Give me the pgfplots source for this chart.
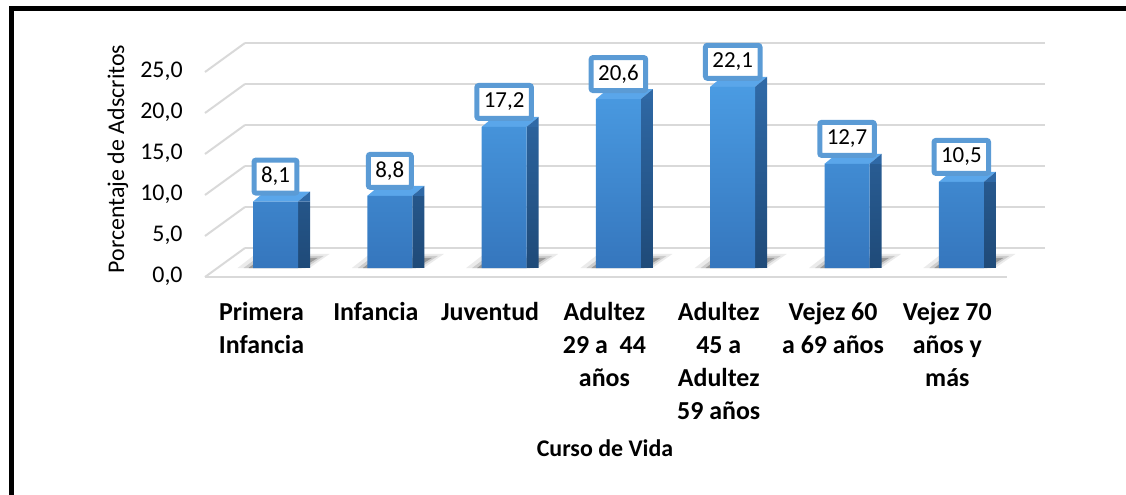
\documentclass[border=0pt]{standalone}
\usepackage{pgfplots}
\pgfplotsset{compat=1.18}
\usepackage{pgfplotstable}
\usepackage{fontspec}
\setmainfont{Carlito}
\definecolor{frontTop}{HTML}{4A9BE2}
\definecolor{frontBot}{HTML}{3576BD}
\definecolor{sideTop}{HTML}{2F69A6}
\definecolor{sideBot}{HTML}{1F4A78}
\definecolor{topFace}{HTML}{5AA6EA}
\definecolor{boxBlue}{HTML}{5B9BD5}
\definecolor{gridc}{HTML}{D9D9D9}

\pgfplotstableread{
x v
0 8.1
1 8.8
2 17.2
3 20.6
4 22.1
5 12.7
6 10.5
}\data

\pgfdeclareplotmark{topface}{%
 \fill[topFace, draw=none] (-11.25bp,0bp) -- (11.25bp,0bp) -- (17.25bp,5bp) -- (-5.25bp,5bp) -- cycle;
 \fill[sideTop, draw=none] (11.25bp,0bp) -- (17.25bp,5bp) -- (17.25bp,0bp) -- cycle;}
\pgfdeclareplotmark{shadowmark}{%
 \fill[black!8, draw=none] (-19bp,0bp) -- (17bp,0bp) -- (27bp,7bp) -- (-10bp,7bp) -- cycle;
 \fill[black!20, draw=none] (-16bp,0bp) -- (15bp,0bp) -- (24bp,6bp) -- (-8bp,6bp) -- cycle;
 \fill[black!40, draw=none] (-13.5bp,0bp) -- (13bp,0bp) -- (21bp,5bp) -- (-7bp,5bp) -- cycle;}

\begin{document}
\begin{tikzpicture}
\useasboundingbox (0,0) rectangle (563bp,247.5bp);
\draw[line width=2.5bp] (5.5bp,-3bp) -- (5.5bp,243bp) -- (566bp,243bp);
\begin{axis}[
  at={(122.5bp,113.5bp)}, anchor=south west,
  scale only axis, width=400bp, height=113.16bp,
  xmin=-0.267, xmax=6.732, ymin=0, ymax=27.6,
  clip=false, clip marker paths=true,
  axis line style={draw=none}, tick style={draw=none},
  /pgf/number format/assume math mode=true,
  ymajorgrids, grid style={gridc, line width=1bp},
  ytick={2.44,7.44,12.44,17.44,22.44,27.44},
  yticklabels={{0,0},{5,0},{10,0},{15,0},{20,0},{25,0}},
  yticklabel style={anchor=east, inner sep=0pt, xshift=-31bp, yshift=-14.5bp, font=\fontsize{12}{14}\selectfont},
  xtick={0,...,6},
  xticklabels={{Primera\\Infancia},{Infancia},{Juventud},{Adultez\\29 a\ \ 44\\años},{Adultez\\45 a\\Adultez\\59 años},{Vejez 60\\a 69 años},{Vejez 70\\años y\\más}},
  typeset ticklabels with strut,
  xticklabel style={align=center, anchor=north, inner sep=0pt, font=\bfseries\fontsize{13}{16.5}\selectfont, yshift=-14.5bp, xshift=-7bp},
  ylabel={Porcentaje de Adscritos},
  ylabel style={at={(axis description cs:-0.159,0.482)}, anchor=center, font=\fontsize{12}{14}\selectfont},
  xlabel={Curso de Vida},
  xlabel style={at={(axis description cs:0.45,-0.795)}, anchor=center, font=\bfseries\fontsize{12}{14}\selectfont},
]
% 3D floor / left wall guide lines
\draw[gridc, line width=1bp] (axis cs:-0.617,-1.1) -- (axis cs:-0.267,2.44);
\draw[gridc, line width=1bp] (axis cs:-0.617,3.9) -- (axis cs:-0.267,7.44);
\draw[gridc, line width=1bp] (axis cs:-0.617,8.9) -- (axis cs:-0.267,12.44);
\draw[gridc, line width=1bp] (axis cs:-0.617,13.9) -- (axis cs:-0.267,17.44);
\draw[gridc, line width=1bp] (axis cs:-0.617,18.9) -- (axis cs:-0.267,22.44);
\draw[gridc, line width=1bp] (axis cs:-0.617,23.9) -- (axis cs:-0.267,27.44);
\draw[gridc, line width=1bp] (axis cs:-0.617,-1.1) -- (axis cs:6.40,-1.1);
% shadows (behind the bars)
\addplot[only marks, mark=shadowmark, mark options={draw=none}] table[x=x, y expr=0]{\data};
% side faces
\addplot[ybar, bar width=6bp, bar shift=14.25bp, draw=none, top color=sideTop, bottom color=sideBot] table[x=x,y=v]{\data};
% top faces
\addplot[only marks, mark=topface, mark options={draw=none}] table[x=x,y=v]{\data};
% front faces with labels
\addplot[ybar, bar width=22.5bp, bar shift=0pt, draw=none, top color=frontTop, bottom color=frontBot,
  nodes near coords={\pgfmathprintnumber[fixed, fixed zerofill, precision=1, use comma, assume math mode=true]{\pgfplotspointmeta}},
  every node near coord/.append style={anchor=center, yshift=12.5bp, fill=white, draw=boxBlue, line width=2.5bp,
    rounded corners=1bp, inner xsep=3.5bp, inner ysep=0pt, minimum height=16.5bp, text=black, font=\fontsize{11.5}{13}\selectfont}]
  table[x=x,y=v]{\data};
\end{axis}
\end{tikzpicture}
\end{document}
